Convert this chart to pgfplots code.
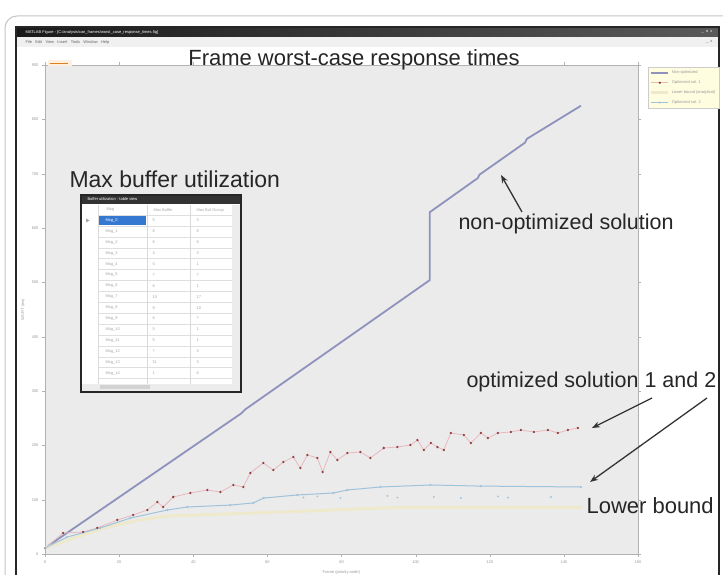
\documentclass[border=0pt]{standalone}
\usepackage{fontspec}
\setmainfont{Liberation Sans}
\usepackage{pgfplots}
\pgfplotsset{compat=1.18}
\usetikzlibrary{arrows.meta}

\definecolor{nonopt}{RGB}{142,146,188}
\definecolor{optline}{RGB}{232,184,192}
\definecolor{optmark}{RGB}{150,62,62}
\definecolor{opttwo}{RGB}{160,195,220}
\definecolor{lowb}{RGB}{238,232,205}
\definecolor{axbg}{RGB}{235,235,235}
\definecolor{selblue}{RGB}{52,120,210}
\newcommand{\tinyfont}{\fontsize{4}{4.8}\selectfont}
\newcommand{\bigfont}[1]{\fontsize{#1}{#1}\selectfont}

\begin{document}
\begin{tikzpicture}[x=1pt,y=1pt]
\clip (0,0) rectangle (723,575);
\fill[white] (0,0) rectangle (723,575);
% outer frame and window chrome
\draw[gray!45, line width=1pt, rounded corners=12pt] (5,-20) rectangle (760,559);
\fill[white] (16,-5) rectangle (719,548);
\shade[left color=black!90, right color=black!65] (16,538) rectangle (719,548);
\node[font=\tinyfont, text=white, anchor=west] at (22,543) {MATLAB Figure - [C:/analysis/can\_frames/worst\_case\_response\_times.fig]};
\node[font=\tinyfont, text=white, anchor=east] at (716,543) {\_ \ o \ x};
\fill[black!6] (17,528) rectangle (718,538);
\node[font=\tinyfont, text=black!60, anchor=west] at (22,533) {File \ \ Edit \ \ View \ \ Insert \ \ Tools \ \ Window \ \ Help};
\node[font=\tinyfont, text=black!60, anchor=east] at (716,533) {\_ \ x};
\draw[black!85, line width=1.6pt] (16,-5) rectangle (719,548);

\begin{axis}[
    at={(45pt,21pt)}, anchor=south west,
    scale only axis, width=593pt, height=489pt,
    xmin=0, xmax=160, ymin=0, ymax=900,
    xtick={0,20,...,160}, ytick={0,100,...,900},
    axis background/.style={fill=axbg},
    axis line style={gray!60},
    tick style={gray!60}, tick align=outside, major tick length=3pt,
    ticklabel style={font=\tinyfont, text=gray!80},
    /pgf/number format/assume math mode=true,
    xlabel={Frame (priority order)}, ylabel={WCRT (ms)},
    label style={font=\tinyfont, text=gray!80},
    legend style={at={(1.017,0.996)}, anchor=north west, fill=yellow!12,
        draw=gray!40, font=\tinyfont, text=gray!80, inner sep=1.5pt,
        row sep=1.5pt},
    legend cell align=left,
]
\addplot[nonopt, line width=1.8pt] coordinates {
    (0,11) (53,259) (54,266) (103.8,504) (103.8,629) (116.8,692) (117.2,698)
    (129.5,757) (130,764) (144.6,825)};
\addlegendentry{Non-optimized}

\addplot[optline, line width=0.8pt, mark=*, mark size=0.7pt,
    mark options={fill=optmark, draw=optmark}] coordinates {
    (0,11) (4.9,38.6) (10.3,40.5) (14.1,47.9) (19.5,62.6) (23.8,71.8) (27.6,81.0)
    (30.3,95.7) (31.9,86.5) (34.6,104.9) (39.2,112.3) (43.8,117.8) (47.3,114.1)
    (50.8,127.0) (53.5,123.3) (55.4,149.1) (58.9,167.5) (61.6,154.6) (64.3,169.3)
    (67.0,178.5) (68.9,158.3) (70.8,182.2) (73.5,176.7) (74.9,150.9) (77.0,187.7)
    (78.9,173.0) (81.6,185.9) (85.1,187.7) (87.8,176.7) (91.4,195.1) (95.1,196.9)
    (98.6,200.6) (100.5,209.8) (102.2,191.4) (104.1,204.3) (105.9,196.9)
    (107.6,191.4) (109.5,222.7) (113.0,219.0) (114.9,204.3) (117.6,222.7)
    (119.5,213.5) (122.2,222.7) (125.7,224.6) (128.4,228.2) (131.9,224.6)
    (135.7,228.2) (138.4,222.7) (141.1,228.2) (143.8,231.9)};
\addlegendentry{Optimized sol. 1}

\addplot[lowb, line width=3pt] coordinates {
    (0,11) (8,30) (16,48) (25,62) (33,70) (55,75) (96,86) (145,86)};
\addlegendentry{Lower bound (analytical)}

\addplot[opttwo, line width=1pt, mark=*, mark size=0.5pt] coordinates {
    (0,11) (5.9,31) (14.9,48) (23,66) (33,81) (38.4,86.5) (50,90) (56.2,94)
    (59,103) (68.1,108.6) (77.8,112.3) (81.6,117.8) (90.5,123.3) (104,127)
    (117.6,125) (144.6,123.3)};
\addlegendentry{Optimized sol. 2}

\addplot[only marks, opttwo, mark=*, mark size=0.7pt, forget plot] coordinates {
    (69.7,104) (73.5,106) (79.7,103) (92.4,107) (95.1,104) (104.9,105)
    (112.2,103) (122.2,106) (124.9,104) (136.5,105)};
\end{axis}

% small tag at top left
\fill[orange!12] (48,509) rectangle (72,515);
\draw[orange!50!brown, line width=0.5pt] (50,512) -- (68,512);

% annotations
\node[font=\bigfont{22}, text=black!85, anchor=base] at (354,509) {Frame worst-case response times};
\node[font=\bigfont{21.5}, text=black!85, anchor=base west] at (455,345) {non-optimized solution};
\node[font=\bigfont{21.5}, text=black!85, anchor=base west] at (463,187) {optimized solution 1 and 2};
\node[font=\bigfont{22}, text=black!85, anchor=base west] at (583,61) {Lower bound};
\draw[black!80, line width=1.3pt, -{Stealth[length=8pt,width=6pt]}] (522,363) -- (501,400);
\draw[black!80, line width=1.3pt, -{Stealth[length=8pt,width=6pt]}] (652,177) -- (592,147);
\draw[black!80, line width=1.3pt, -{Stealth[length=8pt,width=6pt]}] (707,177) -- (590,93);

% inset table
\node[font=\bigfont{23}, text=black!85, anchor=base west] at (66,387) {Max buffer utilization};
\fill[white] (81,183) rectangle (241,380);
\fill[black!80] (81,371) rectangle (241,380);
\node[font=\tinyfont, text=white, anchor=west] at (84,375.5) {Buffer utilization - table view};
\node[font=\tinyfont, text=gray!70, anchor=west] at (103,365) {Msg};
\node[font=\tinyfont, text=gray!70, anchor=west] at (150,365) {Max Buffer};
\node[font=\tinyfont, text=gray!70, anchor=west] at (193,365) {Max Buf Occup};
\fill[selblue] (99,349.5) rectangle (146,359.5);
\fill[gray!70] (86,352.5) -- (86,356.5) -- (89.5,354.5) -- cycle;
\foreach \i/\b/\o in {0/5/3, 1/8/8, 2/6/6, 3/4/3, 4/5/1, 5/7/7, 6/6/1, 7/10/17,
    8/9/10, 9/6/7, 10/5/1, 11/5/1, 12/7/3, 13/11/3, 14/1/6} {
  \pgfmathsetmacro\yc{354.5-10.9*\i}
  \ifnum\i=0
    \node[font=\tinyfont, text=white, anchor=west] at (102,\yc) {Msg\_\i};
  \else
    \node[font=\tinyfont, text=gray!70, anchor=west] at (102,\yc) {Msg\_\i};
  \fi
  \node[font=\tinyfont, text=gray!70, anchor=west] at (149,\yc) {\b};
  \node[font=\tinyfont, text=gray!70, anchor=west] at (193,\yc) {\o};
  \draw[gray!25, line width=0.3pt] (98,\yc-5.45) -- (232,\yc-5.45);
}
\draw[gray!25, line width=0.3pt] (98,359.5) -- (232,359.5);
\foreach \xx in {98,147,190} {\draw[gray!30, line width=0.3pt] (\xx,191) -- (\xx,370);}
\fill[gray!15] (232,191) rectangle (240,370);
\fill[gray!15] (82,184) rectangle (240,191);
\fill[gray!35] (100,185.5) rectangle (150,189.5);
\draw[black!85, line width=1.5pt] (81,183) rectangle (241,380);
\end{tikzpicture}
\end{document}
